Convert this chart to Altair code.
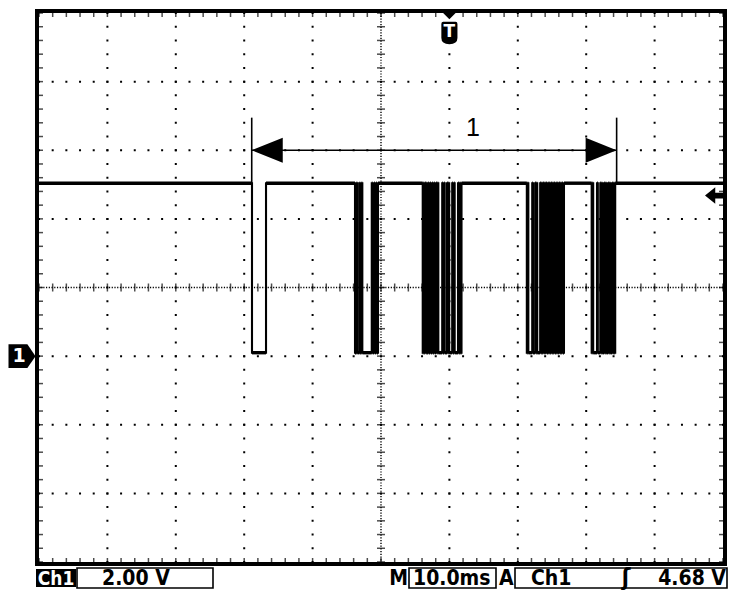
import altair as alt
import pandas as pd

# scope screen: 10 ms/div x 10 div, 2 V/div x 8 div, ch1 ground 3 div below centre
T_SPAN = [0, 100]
V_SPAN = [-6, 10]
TRIG_TIME = 60.0
TRIG_LEVEL = 4.68
HIGH_V = 5.04
LOW_V = 0.1

# edge times in ms (trace starts high, every edge toggles)
burst1 = [31.14, 33.19]
burst2 = [46.20, 46.42, 46.54, 46.86, 46.96, 47.15, 47.27, 48.65, 48.77, 48.98,
          49.09, 49.30, 49.42, 49.56]
burst3 = [56.10, 56.21, 56.33, 56.46, 56.58, 56.67, 56.75, 56.91, 57.03, 57.16,
          57.28, 57.49, 57.60, 57.73, 57.85, 58.07, 58.19, 58.27, 58.38, 58.95,
          59.06, 59.20, 59.31, 59.65, 59.77, 59.87, 59.97, 60.41, 60.53, 60.66,
          60.77, 61.26, 61.37, 61.51, 61.62, 61.77]
burst4 = [71.32, 71.43, 71.54, 72.11, 72.22, 72.54, 72.66, 72.75, 72.84, 73.27,
          73.39, 73.48, 73.58, 73.68, 73.80, 73.92, 74.04, 74.15, 74.27, 74.39,
          74.50, 74.62, 74.74, 74.85, 74.97, 75.09, 75.20, 75.32, 75.44, 75.56,
          75.67, 75.79, 75.91, 76.02, 76.14, 76.26, 76.37, 76.49, 76.61, 76.75]
burst5 = [80.80, 80.92, 81.02, 81.58, 81.70, 82.06, 82.16, 82.25, 82.35, 82.65,
          82.75, 82.84, 82.94, 83.23, 83.33, 83.42, 83.52, 83.82, 83.92, 84.01,
          84.11, 84.24]

# measurement cursors and their label
cursors = [31.1, 84.45]
CURSOR_TOP = 6.95
ARROW_V = 6.0
label_t, label_v, label_txt = 63.45, 6.65, "1"

# status bar texts
CH_NAME = "Ch1"
CH_SCALE = "2.00 V"
TIMEBASE = "10.0ms"
TRIG_SRC = "Ch1"
TRIG_TXT = "4.68 V"

# build the step trace from the edges
edges = burst1 + burst2 + burst3 + burst4 + burst5
ts, vs = [T_SPAN[0]], [HIGH_V]
level = HIGH_V
for e in edges:
    new = LOW_V if level == HIGH_V else HIGH_V
    ts += [e, e]
    vs += [level, new]
    level = new
ts.append(T_SPAN[1])
vs.append(level)
trace = pd.DataFrame({"t": ts, "v": vs, "i": range(len(ts))})
# flat parts of the trace (drawn thicker, the scope's noise band)
flats = pd.DataFrame({"t0": ts[0::2], "t1": ts[1::2], "v": vs[0::2]})

W, H = 684, 549
FONT = "DejaVu Sans Condensed, DejaVu Sans"
xs = alt.Scale(domain=T_SPAN, nice=False, zero=False)
ys = alt.Scale(domain=V_SPAN, nice=False, zero=False)
one = pd.DataFrame({"a": [0]})

# grid: dotted lines every division, finer dotted centre cross
vgrid = alt.Chart(alt.sequence(10, 100, 10, as_="g")).transform_filter(
    "datum.g != 50").mark_rule(color="black", strokeWidth=2,
                               strokeDash=[2, 11.725], strokeDashOffset=1).encode(
    x=alt.X("g:Q", scale=xs, axis=None))
hgrid = alt.Chart(alt.sequence(-4, 10, 2, as_="g")).transform_filter(
    "datum.g != 2").mark_rule(color="black", strokeWidth=2,
                              strokeDash=[2, 11.68], strokeDashOffset=1).encode(
    y=alt.Y("g:Q", scale=ys, axis=None))
vcentre = alt.Chart(one).mark_rule(color="black", strokeWidth=1.4,
                                   strokeDash=[1.2, 1.545]).encode(x=alt.datum(50))
hcentre = alt.Chart(one).mark_rule(color="black", strokeWidth=1.4,
                                   strokeDash=[1.2, 1.536]).encode(y=alt.datum(2))

# minor ticks (1/5 div) on centre cross and along the frame
xt = alt.Chart(alt.sequence(0, 101, 2, as_="t"))
yt = alt.Chart(alt.sequence(-6, 10.1, 0.4, as_="u"))
tick_layers = []
for yv in [-6, 2, 10]:
    tick_layers.append(xt.mark_tick(orient="vertical", size=8, thickness=1.5,
                                    color="black").encode(
        x=alt.X("t:Q", scale=xs, axis=None), y=alt.datum(yv)))
for xv in [0, 50, 100]:
    tick_layers.append(yt.mark_tick(orient="horizontal", size=8, thickness=1.5,
                                    color="black").encode(
        y=alt.Y("u:Q", scale=ys, axis=None), x=alt.datum(xv)))

line = alt.Chart(trace).mark_line(color="black", strokeWidth=2.1).encode(
    x=alt.X("t:Q", scale=xs, axis=None),
    y=alt.Y("v:Q", scale=ys, axis=None),
    order="i:Q")
flat = alt.Chart(flats).mark_rule(color="black", strokeWidth=3.4).encode(
    x="t0:Q", x2="t1:Q", y="v:Q")

# cursor measurement
cur_df = pd.DataFrame({"c": cursors})
cur_lines = alt.Chart(cur_df).mark_rule(color="black", strokeWidth=1.6).encode(
    x="c:Q", y=alt.datum(HIGH_V), y2=alt.datum(CURSOR_TOP))
arrow_line = alt.Chart(one).mark_rule(color="black", strokeWidth=1.6).encode(
    x=alt.datum(cursors[0]), x2=alt.datum(cursors[1]), y=alt.datum(ARROW_V))
head_l = alt.Chart(one).mark_point(shape="M0,0 L2,-0.8 L2,0.8 Z", size=961,
                                   filled=True, color="black", opacity=1).encode(
    x=alt.datum(cursors[0]), y=alt.datum(ARROW_V))
head_r = alt.Chart(one).mark_point(shape="M0,0 L-2,-0.8 L-2,0.8 Z", size=961,
                                   filled=True, color="black", opacity=1).encode(
    x=alt.datum(cursors[1]), y=alt.datum(ARROW_V))
cur_label = alt.Chart(one).mark_text(font="Liberation Sans", fontSize=25,
                                     baseline="middle", align="center").encode(
    x=alt.datum(label_t), y=alt.datum(label_v), text=alt.value(label_txt))

frame = alt.Chart(one).mark_rect(filled=False, stroke="black", strokeWidth=4).encode(
    x=alt.value(-2), x2=alt.value(W + 2), y=alt.value(-2), y2=alt.value(H + 2))

# trigger position marker (top), ground marker (left), trigger level (right)
trig_tri = alt.Chart(one).mark_point(shape="M-1,-0.5 L1,-0.5 L0,0.5 Z", size=289,
                                     filled=True, color="black", opacity=1).encode(
    x=alt.datum(TRIG_TIME), y=alt.value(2))
trig_shield = alt.Chart(one).mark_point(
    shape="M-0.55,-1 L0.55,-1 Q0.72,-1 0.72,-0.8 L0.72,0.45 Q0.72,1 0,1 Q-0.72,1 -0.72,0.45 L-0.72,-0.8 Q-0.72,-1 -0.55,-1 Z",
    size=500, filled=True, color="black", opacity=1).encode(
    x=alt.datum(TRIG_TIME), y=alt.value(20))
trig_t = alt.Chart(one).mark_text(font="DejaVu Sans", fontSize=17, fontWeight="bold",
                                  color="white", baseline="middle").encode(
    x=alt.datum(TRIG_TIME), y=alt.value(19), text=alt.value("T"))
gnd = alt.Chart(one).mark_point(shape="M-1,-0.88 L0.4,-0.88 L1,0 L0.4,0.88 L-1,0.88 Z",
                                size=729, filled=True, color="black", opacity=1).encode(
    x=alt.value(-17), y=alt.datum(0))
gnd_t = alt.Chart(one).mark_text(font="DejaVu Sans", fontSize=19, fontWeight="bold",
                                 color="white", baseline="middle").encode(
    x=alt.value(-20), y=alt.datum(0), text=alt.value("1"))
lvl = alt.Chart(one).mark_point(
    shape="M0,0 L1,-0.8 L1,-0.28 L1.9,-0.28 L1.9,0.28 L1,0.28 L1,0.8 Z",
    size=420, filled=True, color="black", opacity=1).encode(
    x=alt.value(666), y=alt.datum(TRIG_LEVEL))


# status bar below the screen
def box(x0, x1, y0=555, y1=575):
    return alt.Chart(one).mark_rect(filled=False, stroke="black", strokeWidth=1.6).encode(
        x=alt.value(x0), x2=alt.value(x1), y=alt.value(y0), y2=alt.value(y1))


def txt(s, x, align="left", color="black", size=21, weight="bold"):
    return alt.Chart(one).mark_text(font=FONT, fontSize=size, align=align, color=color,
                                    fontWeight=weight, baseline="alphabetic").encode(
        x=alt.value(x), y=alt.value(572), text=alt.value(s))


ch_box = alt.Chart(one).mark_rect(color="black").encode(
    x=alt.value(-3), x2=alt.value(37), y=alt.value(556), y2=alt.value(574))
status = [
    ch_box, txt(CH_NAME, 17, align="center", color="white", size=19),
    box(38, 174), txt(CH_SCALE, 63),
    txt("M", 369, align="right"), box(370, 457), txt(TIMEBASE, 374),
    txt("A", 460), box(476, 688), txt(TRIG_SRC, 492),
    txt("ʃ", 587, align="center", size=23), txt(TRIG_TXT, 687, align="right"),
]

chart = alt.layer(
    vgrid, hgrid, vcentre, hcentre, *tick_layers, line, flat,
    cur_lines, arrow_line, head_l, head_r, cur_label,
    frame, trig_tri, trig_shield, trig_t, gnd, gnd_t, lvl, *status,
).properties(
    width=W, height=H,
    autosize=alt.AutoSizeParams(type="none"),
    padding={"left": 31, "top": 5, "right": 10, "bottom": 36},
    background="white",
).configure_view(stroke=None).configure_axis(disable=True)

chart.save("out.html", embed_options={"renderer": "svg", "actions": False})
